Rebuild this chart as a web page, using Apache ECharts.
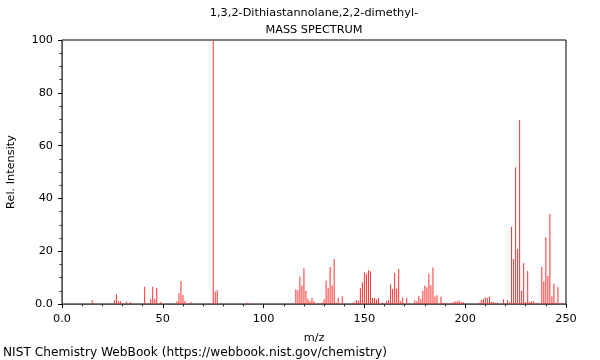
<!DOCTYPE html>
<html><head><meta charset="utf-8">
<script src="https://cdn.jsdelivr.net/npm/echarts@6/dist/echarts.min.js"></script>
<style>html,body{margin:0;padding:0;background:#fff}#c{width:600px;height:360px}</style>
</head><body><div id="c"></div>
<script>
const titleLines = ["1,3,2-Dithiastannolane,2,2-dimethyl-", "MASS SPECTRUM"];
const footerText = "NIST Chemistry WebBook (https://webbook.nist.gov/chemistry)";
const mz = [15,26,27,28,29,32,34,41,44,45,46,47,49,57,58,59,60,61,64,75,76,77,92,94,
116,117,118,119,120,121,122,123,124,125,127,129,130,131,132,133,134,135,136,137,139,
144,145,146,147,148,149,150,151,152,153,154,155,156,157,159,161,162,163,164,165,166,167,168,169,171,
175,176,177,178,179,180,181,182,183,184,185,186,188,189,190,193,194,195,196,197,198,199,
207,208,209,210,211,212,213,214,215,216,219,221,222,223,224,225,226,227,228,229,230,231,232,233,234,236,
238,239,240,241,242,243,244,245,246,248];
const intensity = [1.5,1.3,3.7,1,1,0.8,0.8,6.5,1.8,6.5,1.9,6.2,0.8,1,4,8.7,3.4,1.2,0.8,100,4.7,5.2,0.5,0.3,
5.6,5.1,10.4,7,13.5,5,2,1,2.3,1,0.3,0.5,1.8,8.8,6,14,7,17,0.6,2.4,2.9,
0.5,0.6,1.5,1.2,6,8.2,12,11.5,12.8,12.4,2.3,2.3,1.7,2.3,0.5,1,1.6,7.4,5.7,11.7,5.9,13.3,1,2.5,2.3,
1.3,1,3,1.8,5,7,6.3,11.5,7.1,13.8,2.8,3.3,2.8,0.5,0.4,0.5,0.7,1,1,1.3,0.7,0.8,
0.5,1.5,2,2.5,2.3,2.8,0.8,0.8,0.5,0.5,1.8,1.5,0.7,29.3,17,51.8,20.8,69.7,5,15.5,0.8,12.5,0.8,1,1,0.5,
14.1,8.6,25.3,10.6,34.1,2.8,7.6,0.5,6.3,0.5];
const xTicks = [0,50,100,150,200,250];
const yTicks = [0,20,40,60,80,100];

const chart = echarts.init(document.getElementById('c'), null, {renderer:'canvas'});
const font = 'DejaVu Sans';
const fs = 11.3;
const data = mz.map((m,i)=>[m,intensity[i]]);
function txt(s, x, y, align, size){
  return {type:'text', x:x, y:y, silent:true,
    style:{text:s, fill:'#000', font:size+'px "'+font+'"', textAlign:align, textVerticalAlign:'middle'}};
}
chart.setOption({
  animation:false,
  backgroundColor:'#fff',
  graphic:[
    txt(titleLines[0], 314, 13, 'center', fs),
    txt(titleLines[1], 314, 30, 'center', fs),
    txt(footerText, 3, 353, 'left', 12.2)
  ],
  grid:{left:62,right:34,top:40,bottom:56,show:true,borderColor:'#000',borderWidth:1,backgroundColor:'transparent',
    containLabel:false,outerBoundsMode:'none'},
  xAxis:{type:'value',min:xTicks[0],max:xTicks[xTicks.length-1],interval:50,
    name:'m/z',nameLocation:'middle',nameGap:29,nameTextStyle:{fontFamily:font,fontSize:fs,color:'#000'},
    axisLine:{show:true,lineStyle:{color:'#555'}},
    axisTick:{show:true,inside:false,length:4,lineStyle:{color:'#000'}},
    minorTick:{show:true,splitNumber:5,length:2.5,lineStyle:{color:'#333'}},
    splitLine:{show:false},
    axisLabel:{fontFamily:font,fontSize:fs,color:'#000',margin:10,formatter:v=>v===0?'0.0':String(v)}},
  yAxis:{type:'value',min:yTicks[0],max:yTicks[yTicks.length-1],interval:20,
    name:'Rel. Intensity',nameLocation:'middle',nameGap:45,nameRotate:90,nameTextStyle:{fontFamily:font,fontSize:fs,color:'#000'},
    axisLine:{show:true,lineStyle:{color:'#555'}},
    axisTick:{show:true,inside:false,length:4,lineStyle:{color:'#000'}},
    minorTick:{show:true,splitNumber:4,length:2.5,lineStyle:{color:'#333'}},
    splitLine:{show:false},
    axisLabel:{fontFamily:font,fontSize:fs,color:'#000',margin:9,formatter:v=>v===0?'0.0':String(v)}},
  series:[{type:'bar',data:data,barWidth:1,itemStyle:{color:'#ff3030'},large:false}]
});
</script></body></html>
